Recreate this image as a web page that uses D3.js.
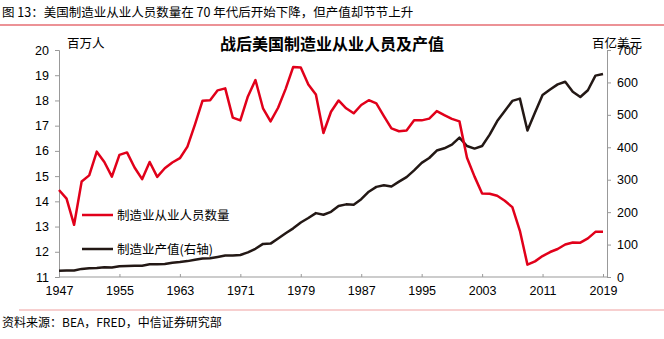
<!DOCTYPE html>
<html><head><meta charset="utf-8">
<script src="https://cdn.jsdelivr.net/npm/d3@7"></script>
<style>
body{margin:0;background:#fff;}
svg{display:block;}
text{font-family:"Liberation Sans",Arial,"Noto Sans CJK SC",sans-serif;}
.cjk{font-family:"Noto Sans CJK SC","Liberation Sans",sans-serif;}
</style></head>
<body>
<script>
const years = d3.range(1947, 2020);
const employment = [14.45,14.11,13.07,14.79,15.03,15.97,15.56,14.98,15.84,15.94,15.34,14.88,15.56,14.97,15.31,15.54,15.71,16.17,17.05,17.99,18.01,18.40,18.48,17.32,17.21,18.16,18.81,17.69,17.17,17.71,18.46,19.33,19.31,18.63,18.24,16.71,17.55,18.00,17.69,17.49,17.82,18.01,17.88,17.38,16.89,16.78,16.81,17.21,17.21,17.28,17.58,17.42,17.27,17.17,15.73,14.98,14.31,14.30,14.22,14.02,13.77,12.83,11.49,11.62,11.83,11.99,12.11,12.29,12.37,12.36,12.53,12.79,12.79];
const output = [19,20,20,25,27,28,30,29,33,34,35,35,39,39,40,44,46,49,53,57,58,62,66,66,68,76,87,102,103,119,135,150,168,182,197,192,201,219,224,223,240,263,278,283,279,294,308,329,352,367,390,397,408,430,404,396,404,439,481,512,543,550,452,507,561,578,594,602,571,555,576,621,626];
const xTicks = [1947,1955,1963,1971,1979,1987,1995,2003,2011,2019];
const leftTicks = d3.range(11, 21);
const rightTicks = d3.range(0, 701, 100);
const seriesNames = ["制造业从业人员数量", "制造业产值(右轴)"];
const titleText = "战后美国制造业从业人员及产值";
const captionText = "图 13：美国制造业从业人员数量在 70 年代后开始下降，但产值却节节上升";
const sourceText = "资料来源：BEA，FRED，中信证券研究部";
const leftUnit = "百万人", rightUnit = "百亿美元";

const W = 664, H = 339;
const L = 59, R = 607, T = 50, B = 277;
const RED = "#e1001a", BLK = "#231815", AX = "#999";

const svg = d3.select("body").append("svg").attr("width", W).attr("height", H);

const x = d3.scaleLinear().domain([1947, 2019]).range([L, 603]);
const yL = d3.scaleLinear().domain([11, 20]).range([B, T]);
const yR = d3.scaleLinear().domain([0, 700]).range([B, T]);

// caption
svg.append("text").attr("class","cjk").attr("x", 2).attr("y", 17).attr("font-size", 12.5).attr("fill","#000").text(captionText);
svg.append("line").attr("x1", 0).attr("x2", W).attr("y1", 25).attr("y2", 25).attr("stroke", "#d9262e").attr("stroke-width", 1.2);

// title
svg.append("text").attr("class","cjk").attr("x", 332).attr("y", 50).attr("text-anchor","middle").attr("font-size", 16).attr("font-weight","bold").attr("fill","#000").text(titleText);

// axes
const gL = svg.append("g").attr("transform", `translate(${L},0)`)
  .call(d3.axisLeft(yL).tickValues(leftTicks).tickSize(4).tickPadding(6).tickFormat(d3.format("d")));
const gR = svg.append("g").attr("transform", `translate(${R},0)`)
  .call(d3.axisRight(yR).tickValues(rightTicks).tickSize(4).tickPadding(6).tickFormat(d3.format("d")));
const gX = svg.append("g").attr("transform", `translate(0,${B})`)
  .call(d3.axisBottom(x).tickValues(xTicks).tickSize(-3).tickPadding(9).tickFormat(d3.format("d")));
gX.select(".domain").attr("d", `M${L},0H${R}`);
[gL, gR, gX].forEach(g => {
  g.selectAll(".domain").attr("stroke", AX).attr("stroke-width", 1);
  g.selectAll(".tick line").attr("stroke", AX);
  g.selectAll(".tick text").attr("font-size", 12.5).attr("fill", "#000").attr("font-family", "Liberation Sans, Arial, sans-serif");
});

// units
svg.append("text").attr("class","cjk").attr("x", 67).attr("y", 48).attr("font-size", 12.5).text(leftUnit);
svg.append("text").attr("class","cjk").attr("x", 592).attr("y", 48).attr("font-size", 12.5).text(rightUnit);

// lines
const lineL = d3.line().x((d,i) => x(years[i])).y(d => yL(d));
const lineR = d3.line().x((d,i) => x(years[i])).y(d => yR(d));
svg.append("path").datum(output).attr("d", lineR).attr("fill","none").attr("stroke", BLK).attr("stroke-width", 2.5).attr("stroke-linejoin","round");
svg.append("path").datum(employment).attr("d", lineL).attr("fill","none").attr("stroke", RED).attr("stroke-width", 2.5).attr("stroke-linejoin","round");

// legend
const leg = [{c: RED, y: 215}, {c: BLK, y: 249}];
leg.forEach((l, i) => {
  svg.append("line").attr("x1", 82).attr("x2", 113).attr("y1", l.y).attr("y2", l.y).attr("stroke", l.c).attr("stroke-width", 2.5);
  svg.append("text").attr("class","cjk").attr("x", 117).attr("y", l.y + 4.5).attr("font-size", 12.5).attr("fill","#000").text(seriesNames[i]);
});

// footer
svg.append("line").attr("x1", 19).attr("x2", W).attr("y1", 310).attr("y2", 310).attr("stroke", "#f0a0a0").attr("stroke-width", 1.2);
svg.append("text").attr("class","cjk").attr("x", 2).attr("y", 327).attr("font-size", 12).attr("fill","#000").text(sourceText);
</script>
</body></html>
